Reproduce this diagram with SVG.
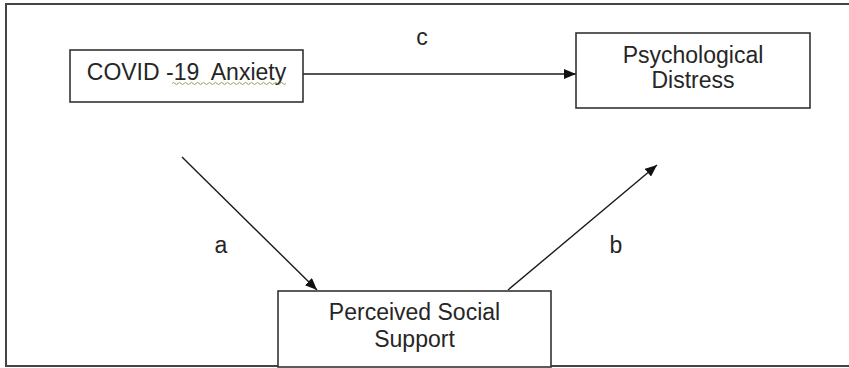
<svg xmlns="http://www.w3.org/2000/svg" width="849" height="368" viewBox="0 0 849 368">
  <style>
    .box { fill: #ffffff; stroke: #333333; stroke-width: 1.6; }
    .lbl { font-family: "Liberation Sans", Arial, sans-serif; font-size: 23px; fill: #262626; text-anchor: middle; white-space: pre; }
    .conn { stroke: #1a1a1a; stroke-width: 1.4; fill: none; marker-end: url(#arrow); }
  </style>
  <defs>
    <marker id="arrow" viewBox="0 0 12 10" refX="12" refY="5" markerWidth="12" markerHeight="10" markerUnits="userSpaceOnUse" orient="auto">
      <path d="M0,0 L12,5 L0,10 Z" fill="#111111"/>
    </marker>
  </defs>
  <rect x="0" y="0" width="849" height="368" fill="#ffffff"/>
  <g id="frame">
    <path d="M852,4 L6,4 L6,366 L852,366" fill="none" stroke="#444444" stroke-width="2"/>
  </g>
  <g id="connectors">
    <line class="conn" x1="303" y1="74" x2="576" y2="74"/>
    <line class="conn" x1="182" y1="157" x2="317" y2="290"/>
    <line class="conn" x1="508" y1="290" x2="657" y2="165"/>
    <text class="lbl" x="422" y="45">c</text>
    <text class="lbl" x="221" y="253">a</text>
    <text class="lbl" x="616" y="253">b</text>
  </g>
  <g id="node-covid">
    <rect class="box" x="70" y="50" width="233" height="52"/>
    <text class="lbl" x="186.5" y="80">COVID -19  Anxiety</text>
    <path d="M172,83.5 q1.5,-2 3,0 t3,0 t3,0 t3,0 t3,0 t3,0 t3,0 t3,0 t3,0 t3,0 t3,0 t3,0 t3,0 t3,0 t3,0 t3,0 t3,0 t3,0 t3,0 t3,0 t3,0 t3,0 t3,0 t3,0 t3,0 t3,0 t3,0 t3,0 t3,0 t3,0 t3,0 t3,0 t3,0 t3,0 t3,0 t3,0 t3,0 t3,0" fill="none" stroke="#7a9a4a" stroke-width="0.9"/>
  </g>
  <g id="node-distress">
    <rect class="box" x="576" y="33" width="234" height="75"/>
    <text class="lbl" x="693" y="63">Psychological</text>
    <text class="lbl" x="693" y="88">Distress</text>
  </g>
  <g id="node-support">
    <rect class="box" x="278" y="291" width="273" height="76"/>
    <text class="lbl" x="414.5" y="320">Perceived Social</text>
    <text class="lbl" x="414.5" y="347">Support</text>
  </g>
</svg>
